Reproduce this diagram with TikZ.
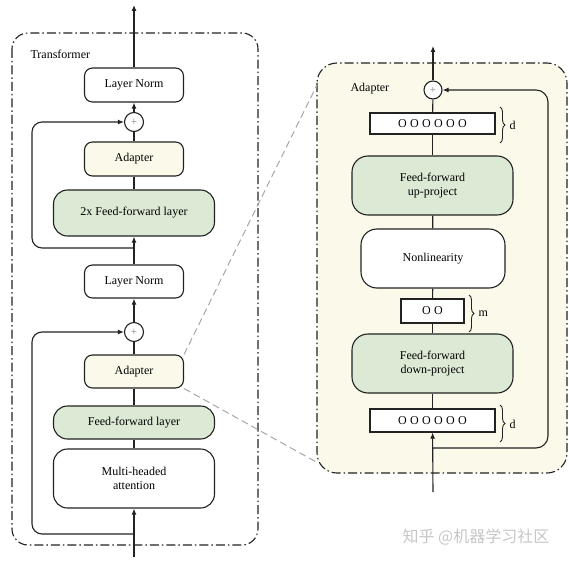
\documentclass[tikz,border=0pt]{standalone}
\usepackage{fontspec}
\setmainfont{Liberation Serif}
\newfontfamily\cjk{Noto Sans CJK SC}
\usetikzlibrary{arrows.meta,decorations.pathreplacing}
\definecolor{lineC}{HTML}{222222}
\definecolor{creamC}{HTML}{FBFAEA}
\definecolor{greenC}{HTML}{DCE9D5}
\tikzset{
  blk/.style={draw=lineC, line width=1.1pt, rounded corners=8pt, fill=white,
    font=\fontsize{12}{14}\selectfont, align=center, inner sep=0pt},
  adbox/.style={blk, fill=creamC},
  ffbox/.style={blk, fill=greenC, rounded corners=14pt},
  bigbox/.style={blk, rounded corners=14pt},
  vecbox/.style={blk, rounded corners=0pt},
  plus/.style={draw=lineC, line width=1.1pt, circle, fill=white, minimum size=19pt,
    inner sep=0pt, text=gray, font=\fontsize{11}{11}\selectfont},
  arr/.style={lineC, line width=1.1pt, -{Latex[length=6pt,width=5pt]}},
  conn/.style={lineC, line width=1.1pt},
  panel/.style={lineC, line width=1.1pt, dash pattern=on 9pt off 3pt on 1.5pt off 3pt},
  zoomline/.style={gray!70, line width=1pt, dash pattern=on 7pt off 4pt},
  brc/.style={lineC, line width=0.9pt, decorate, decoration={brace, amplitude=5pt}},
  lab/.style={anchor=west, font=\fontsize{12}{14}\selectfont}
}
\begin{document}
\begin{tikzpicture}[x=1pt, y=-1pt]
\useasboundingbox (0,0) rectangle (569,561);

% Panels
\draw[panel, rounded corners=16pt] (12,33) rectangle (258,545);
\node[lab] (tlabel) at (27,54) {Transformer};
\draw[panel, fill=creamC, rounded corners=20pt] (317,63) rectangle (567,473);
\node[lab] (alabel) at (347,89) {Adapter};

% Transformer layer
\node[blk, minimum width=99pt, minimum height=34pt] (ln1) at (134,85) {Layer Norm};
\node[plus] (plus1) at (134,122) {+};
\node[adbox, minimum width=99pt, minimum height=34pt] (ad1) at (134,159) {Adapter};
\node[ffbox, minimum width=161pt, minimum height=46pt] (ff1) at (134,213) {2x Feed-forward layer};
\node[blk, minimum width=99pt, minimum height=33pt] (ln2) at (134,281.5) {Layer Norm};
\node[plus] (plus2) at (134,332) {+};
\node[adbox, minimum width=99pt, minimum height=33pt] (ad2) at (134,371.5) {Adapter};
\node[ffbox, minimum width=161pt, minimum height=33pt] (ff2) at (134,422.5) {Feed-forward layer};
\node[bigbox, minimum width=161pt, minimum height=59pt] (mha) at (134,478.5) {Multi-headed\\attention};

\coordinate (out1) at (134,5);
\coordinate (in1) at (134,557);
\coordinate (br1) at (134,248);
\coordinate (br2) at (134,534);
\draw[arr] (ln1) -- (out1);
\draw[arr] (plus1) -- (ln1);
\draw[conn] (ad1) -- (plus1);
\draw[conn] (ff1) -- (ad1);
\draw[arr] (ln2) -- (ff1);
\draw[arr] (plus2) -- (ln2);
\draw[conn] (ad2) -- (plus2);
\draw[conn] (ff2) -- (ad2);
\draw[conn] (mha) -- (ff2);
\draw[arr] (in1) -- (mha);
\draw[arr, rounded corners=10pt] (br1) -- (32,248) -- (32,122) -- (plus1.west);
\draw[arr, rounded corners=10pt] (br2) -- (32,534) -- (32,332) -- (plus2.west);

% Zoom lines
\coordinate (zt) at (317,85);
\coordinate (zb) at (318,463);
\draw[zoomline] (ad2.north east) -- (zt);
\draw[zoomline] (ad2.south east) -- (zb);

% Adapter layer
\node[plus, minimum size=18pt] (plus3) at (433,90) {+};
\node[vecbox, minimum width=125pt, minimum height=21pt] (dtop) at (432.5,123.5) {O\;O\;O\;O\;O\;O};
\node[ffbox, rounded corners=16pt, minimum width=161pt, minimum height=59pt] (up) at (432.5,185.5) {Feed-forward\\up-project};
\node[bigbox, rounded corners=16pt, minimum width=144pt, minimum height=59pt] (nonlin) at (433,258.5) {Nonlinearity};
\node[vecbox, minimum width=63pt, minimum height=24pt] (mbox) at (432.5,311) {O\;O};
\node[ffbox, rounded corners=16pt, minimum width=161pt, minimum height=59pt] (down) at (432.5,363.5) {Feed-forward\\down-project};
\node[vecbox, minimum width=125pt, minimum height=23pt] (dbot) at (432.5,420.5) {O\;O\;O\;O\;O\;O};

\draw[brc] (500,107) -- (500,143);
\node[lab] (dlab1) at (506,125) {d};
\draw[brc] (469,295) -- (469,332);
\node[lab] (mlab) at (475,314) {m};
\draw[brc] (500,405) -- (500,442);
\node[lab] (dlab2) at (506,424) {d};

\coordinate (out2) at (433,46);
\coordinate (in2) at (433,492);
\coordinate (br3) at (433,448);
\draw[arr] (plus3) -- (out2);
\draw[conn] (dtop) -- (plus3);
\draw[conn] (up) -- (dtop);
\draw[conn] (nonlin) -- (up);
\draw[conn] (mbox) -- (nonlin);
\draw[conn] (down) -- (mbox);
\draw[conn] (dbot) -- (down);
\draw[arr] (in2) -- (dbot);
\draw[arr, rounded corners=12pt] (br3) -- (548,448) -- (548,90) -- (plus3.east);

% Watermark
\node[text=gray!45, font=\cjk\fontsize{16}{18}\selectfont] (wm) at (476,537) {知乎 @机器学习社区};
\end{tikzpicture}
\end{document}
